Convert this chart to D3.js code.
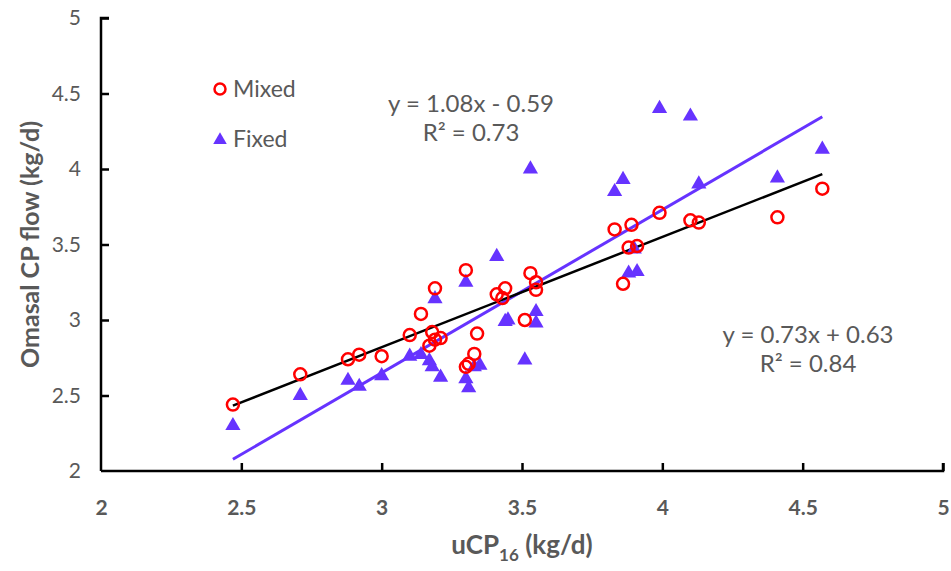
<!DOCTYPE html>
<html>
<head>
<meta charset="utf-8">
<script src="https://cdn.jsdelivr.net/npm/d3@7"></script>
<style>
  body { margin: 0; background: #fff; }
  text { font-family: Lato, "Open Sans", sans-serif; fill: #595959; }
</style>
</head>
<body>
<div id="chart"></div>
<script>
'use strict';

// the data
var mixedX = [2.47, 2.71, 2.88, 2.92, 3.00, 3.10, 3.14, 3.17, 3.18, 3.19, 3.21, 3.19, 3.30, 3.30, 3.31, 3.33, 3.34,
              3.41, 3.43, 3.44, 3.51, 3.53, 3.55, 3.55, 3.83, 3.86, 3.88, 3.89, 3.91, 3.99, 4.10, 4.13, 4.41, 4.57];
var mixedY = [2.44, 2.64, 2.74, 2.77, 2.76, 2.90, 3.04, 2.83, 2.92, 2.87, 2.88, 3.21, 3.33, 2.69, 2.71, 2.775, 2.91,
              3.17, 3.145, 3.21, 3.00, 3.31, 3.25, 3.20, 3.60, 3.24, 3.48, 3.63, 3.49, 3.71, 3.66, 3.645, 3.68, 3.87];
var fixedX = [2.47, 2.71, 2.88, 2.92, 3.00, 3.10, 3.14, 3.17, 3.18, 3.21, 3.19, 3.30, 3.30, 3.31, 3.33, 3.35,
              3.41, 3.44, 3.45, 3.51, 3.53, 3.55, 3.55, 3.83, 3.86, 3.88, 3.90, 3.91, 3.99, 4.10, 4.13, 4.41, 4.57];
var fixedY = [2.30, 2.50, 2.60, 2.56, 2.63, 2.76, 2.77, 2.73, 2.69, 2.62, 3.14, 3.25, 2.61, 2.55, 2.69, 2.70,
              3.42, 2.99, 3.00, 2.735, 4.00, 3.055, 2.98, 3.85, 3.93, 3.31, 3.47, 3.32, 4.40, 4.35, 3.90, 3.94, 4.13];

// trendlines as printed on the chart: [slope, intercept]
var mixedFit = [0.73, 0.63];
var fixedFit = [1.08, -0.59];
var mixedLabel = ['y = 0.73x + 0.63', 'R\u00b2 = 0.84'];
var fixedLabel = ['y = 1.08x - 0.59', 'R\u00b2 = 0.73'];

var xTicks = [2, 2.5, 3, 3.5, 4, 4.5, 5];
var yTicks = [2, 2.5, 3, 3.5, 4, 4.5, 5];

var red = '#ff0000', purple = '#6633ff';

var width = 951, height = 571;
var svg = d3.select('#chart').append('svg')
    .attr('width', width)
    .attr('height', height);

// set the ranges
var x = d3.scaleLinear().domain([2, 5]).range([101, 943]);
var y = d3.scaleLinear().domain([2, 5]).range([471, 18]);

// y axis
var yAxis = svg.append('g')
    .attr('transform', 'translate(' + x(2) + ',0)')
    .call(d3.axisRight(y).tickValues(yTicks).tickSize(8).tickFormat(d3.format('')));
yAxis.select('.domain').attr('stroke', '#000').attr('stroke-width', 2.5)
    .attr('d', 'M8,' + y(5) + 'H0V' + y(2));
yAxis.selectAll('.tick line').attr('stroke', '#000').attr('stroke-width', 2.5);
yAxis.selectAll('.tick text')
    .attr('x', -20).attr('text-anchor', 'end')
    .style('font-size', '21px').attr('fill', '#595959');
yAxis.selectAll('.tick').filter(function (d) { return d === 2; }).select('line').remove();

// x axis
var xAxis = svg.append('g')
    .attr('transform', 'translate(0,' + y(2) + ')')
    .call(d3.axisTop(x).tickValues(xTicks).tickSize(8).tickFormat(d3.format('')));
xAxis.select('.domain').attr('stroke', '#000').attr('stroke-width', 2.5)
    .attr('d', 'M' + x(2) + ',0H' + x(5) + 'V-8');
xAxis.selectAll('.tick line').attr('stroke', '#000').attr('stroke-width', 2.5);
xAxis.selectAll('.tick text')
    .attr('y', 37).attr('dy', '0.35em')
    .style('font-size', '21px').style('font-weight', 'bold').attr('fill', '#595959');
xAxis.selectAll('.tick').filter(function (d) { return d === 2; }).select('line').remove();

// axis titles
svg.append('text')
    .attr('transform', 'translate(30,' + y(3.5) + ') rotate(-90)')
    .attr('text-anchor', 'middle').attr('dy', '0.35em')
    .style('font-size', '25px').style('font-weight', 'bold')
    .text('Omasal CP flow (kg/d)');

var xt = svg.append('text')
    .attr('x', x(3.5)).attr('y', 554)
    .attr('text-anchor', 'middle')
    .style('font-size', '26px').style('font-weight', 'bold');
xt.append('tspan').text('uCP');
xt.append('tspan').attr('dy', 7).style('font-size', '17px').text('16');
xt.append('tspan').attr('dy', -7).text(' (kg/d)');

// trendlines
function fitLine(xs, fit, colour, w) {
    var ext = d3.extent(xs);
    svg.append('line')
        .attr('x1', x(ext[0])).attr('y1', y(fit[0] * ext[0] + fit[1]))
        .attr('x2', x(ext[1])).attr('y2', y(fit[0] * ext[1] + fit[1]))
        .attr('stroke', colour).attr('stroke-width', w);
}
fitLine(fixedX, fixedFit, purple, 3);
fitLine(mixedX, mixedFit, '#000', 2.5);

// the points
var tri = d3.symbol().type(d3.symbolTriangle).size(100);
svg.append('g').selectAll('path')
    .data(d3.zip(fixedX, fixedY))
    .enter().append('path')
    .attr('d', tri)
    .attr('transform', function (d) { return 'translate(' + x(d[0]) + ',' + y(d[1]) + ')'; })
    .attr('fill', purple);

svg.append('g').selectAll('circle')
    .data(d3.zip(mixedX, mixedY))
    .enter().append('circle')
    .attr('cx', function (d) { return x(d[0]); })
    .attr('cy', function (d) { return y(d[1]); })
    .attr('r', 6)
    .attr('fill', 'none')
    .attr('stroke', red)
    .attr('stroke-width', 2.5);

// legend
var leg = svg.append('g').attr('transform', 'translate(220,0)');
leg.append('circle').attr('cx', 0).attr('cy', 89).attr('r', 5.5)
    .attr('fill', 'none').attr('stroke', red).attr('stroke-width', 2.5);
leg.append('text').attr('x', 13).attr('y', 89).attr('dy', '0.35em')
    .style('font-size', '23px').text('Mixed');
leg.append('path').attr('d', d3.symbol().type(d3.symbolTriangle).size(80))
    .attr('transform', 'translate(0,140)').attr('fill', purple);
leg.append('text').attr('x', 13).attr('y', 139).attr('dy', '0.35em')
    .style('font-size', '23px').text('Fixed');

// equation labels
function eqLabel(lines, cx, cy) {
    lines.forEach(function (s, i) {
        svg.append('text')
            .attr('x', cx).attr('y', cy + i * 29).attr('dy', '0.35em')
            .attr('text-anchor', 'middle')
            .style('font-size', '24px')
            .text(s);
    });
}
eqLabel(fixedLabel, 471, 104);
eqLabel(mixedLabel, 808, 335);
</script>
</body>
</html>
